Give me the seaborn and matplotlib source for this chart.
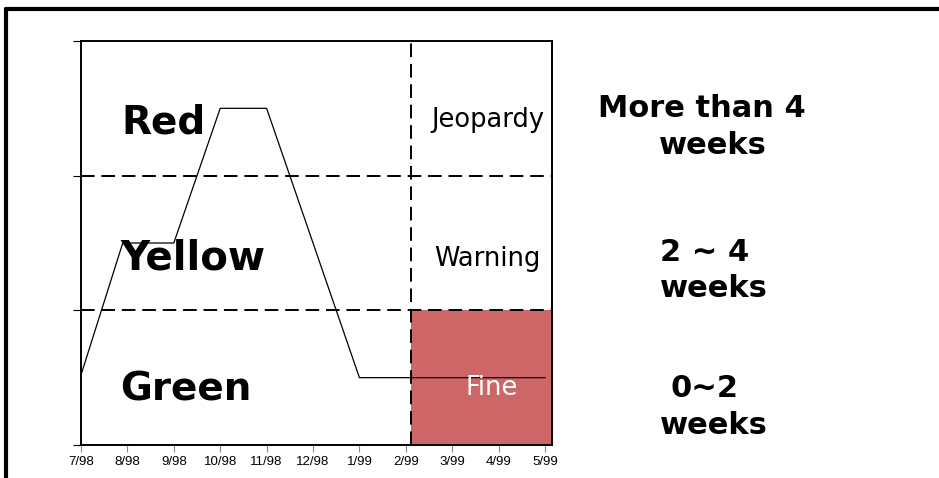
import numpy as np
import pandas as pd
import seaborn as sns
import matplotlib.pyplot as plt
from matplotlib.lines import Line2D
from matplotlib.patches import Rectangle

# month positions and labels
months = ['7/98', '8/98', '9/98', '10/98', '11/98', '12/98', '1/99', '2/99', '3/99', '4/99', '5/99']

# status trace (month index, band level)
trace_x = [0, 0.9, 2, 3, 4, 6, 10]
trace_y = [0.52, 1.5, 1.5, 2.5, 2.5, 0.5, 0.5]

bands = ['Green', 'Yellow', 'Red']
states = ['Fine', 'Warning', 'Jeopardy']
durations = [['0~2', 'weeks'], ['2 ~ 4', 'weeks'], ['More than 4', 'weeks']]

cutoff = 7.11  # current date marker, just after 2/99

sns.set_style('white')
plt.rcParams['font.family'] = ['DejaVu Sans']
plt.rcParams['text.color'] = 'black'

W, H = 939, 478
fig = plt.figure(figsize=(W / 100, H / 100), dpi=100)
ax = fig.add_axes([81 / W, 1 - 445 / H, (552 - 81) / W, (445 - 41) / H])

def px(x, y):
    return x / W, 1 - y / H

# current state box
ax.add_patch(Rectangle((cutoff, 0), 10.15 - cutoff, 1, facecolor='#cd6666', edgecolor='none', zorder=1))

df = pd.DataFrame({'month': trace_x, 'level': trace_y})
sns.lineplot(data=df, x='month', y='level', color='black', linewidth=0.9, sort=False, ax=ax, zorder=3)

dash = (0, (7, 3.5))
for lvl in [1, 2]:
    ax.axhline(lvl, color='black', linestyle=dash, linewidth=1.4, zorder=2)
ax.axvline(cutoff, color='black', linestyle=dash, linewidth=1.4, zorder=2)

ax.set_xlim(0, 10.15)
ax.set_ylim(0, 3)
ax.set_xticks(range(len(months)))
ax.set_xticklabels(months, family=['Liberation Sans Narrow', 'Liberation Sans'], fontsize=9.5, color='black')
ax.set_yticks([0, 1, 2, 3])
ax.set_yticklabels([])
ax.tick_params(axis='x', bottom=True, direction='out', length=5, width=0.8, color='#888888', pad=3)
ax.tick_params(axis='y', left=True, direction='out', length=6, width=0.8, color='black')
ax.set_xlabel('')
ax.set_ylabel('')
for s in ax.spines.values():
    s.set_color('black')
    s.set_linewidth(1.4)

# band names inside the plot
band_pos = [(0.84, 0.33), (0.84, 1.30), (0.88, 2.31)]
band_size = [28, 29, 28]
for name, (x, y), fs in zip(bands, band_pos, band_size):
    ax.text(x, y, name, fontsize=fs, fontweight='bold', va='baseline', ha='left', color='black', zorder=4)

state_pos = [(8.28, 0.37, 'white'), (7.61, 1.33, 'black'), (7.56, 2.36, 'black')]
for name, (x, y, c) in zip(states, state_pos):
    ax.text(x, y, name, fontsize=18.5, color=c, va='baseline', ha='left', zorder=4)

# duration labels on the right
dur_pos = [[(670, 397), (660, 434)], [(660, 261), (660, 297)], [(598, 117), (659, 154)]]
for lines, pos in zip(durations, dur_pos):
    for txt, (x, y) in zip(lines, pos):
        fx, fy = px(x, y)
        fig.text(fx, fy, txt, fontsize=22, fontweight='bold', va='baseline', ha='left', color='black')

# slide frame
fig.add_artist(Line2D([6 / W, 6 / W], [0, 1 - 9 / H], transform=fig.transFigure, color='black', linewidth=3))
fig.add_artist(Line2D([6 / W, 1], [1 - 9 / H, 1 - 9 / H], transform=fig.transFigure, color='black', linewidth=3))

fig.savefig('out.png', dpi=100)
